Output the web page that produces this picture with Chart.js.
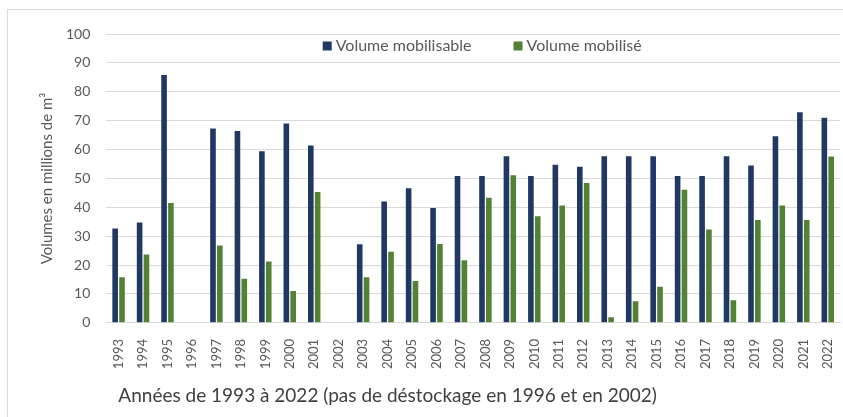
<!DOCTYPE html>
<html>
<head>
<meta charset="utf-8">
<script src="https://cdn.jsdelivr.net/npm/chart.js@4.4.0/dist/chart.umd.min.js"></script>
<style>
    html, body { margin: 0; padding: 0; background: #fff; }
    #wrap { position: relative; width: 843px; height: 417px; }
    #frame { position: absolute; left: 7px; top: 9px; right: 0; bottom: 0; border-left: 1px solid #d9d9d9; border-top: 1px solid #d9d9d9; }
    canvas { position: absolute; left: 0; top: 0; }
</style>
</head>
<body>
<div id="wrap">
    <div id="frame"></div>
    <canvas id="volumesChart" width="843" height="417"></canvas>
</div>
<script>
// Volumes annuels (millions de m3)
const years = ['1993', '1994', '1995', '1996', '1997', '1998', '1999', '2000', '2001', '2002',
    '2003', '2004', '2005', '2006', '2007', '2008', '2009', '2010', '2011', '2012',
    '2013', '2014', '2015', '2016', '2017', '2018', '2019', '2020', '2021', '2022'];

const mobilisable = [32.7, 34.7, 85.8, 0, 67.3, 66.4, 59.4, 69.0, 61.4, 0,
    27.2, 42.0, 46.6, 39.8, 50.8, 50.8, 57.7, 50.8, 54.7, 54.0,
    57.7, 57.7, 57.7, 50.8, 50.8, 57.7, 54.5, 64.6, 72.9, 71.0];

const mobilise = [15.8, 23.7, 41.5, 0, 26.8, 15.3, 21.2, 11.0, 45.3, 0,
    15.8, 24.6, 14.5, 27.3, 21.7, 43.3, 51.1, 36.9, 40.6, 48.4,
    1.9, 7.5, 12.5, 46.1, 32.3, 7.8, 35.6, 40.6, 35.6, 57.6];

const yTicks = [0, 10, 20, 30, 40, 50, 60, 70, 80, 90, 100];

const fontFamily = 'Lato, "Noto Sans", sans-serif';
const textColor = '#595959';

// legend drawn inside the plot, between the 90 and 100 grid lines
const innerLegend = {
    id: 'innerLegend',
    afterDraw(chart) {
        const ctx = chart.ctx;
        const area = chart.chartArea;
        const box = 9, gapText = 4, gapItems = 42;
        ctx.save();
        ctx.font = '16px ' + fontFamily;
        ctx.textBaseline = 'middle';
        const items = chart.data.datasets.map(ds => ({
            text: ds.label,
            color: ds.backgroundColor,
            w: box + gapText + ctx.measureText(ds.label).width
        }));
        const total = items.reduce((s, it) => s + it.w, 0) + gapItems * (items.length - 1);
        let x = (area.left + area.right) / 2 + 9 - total / 2;
        const y = area.top + 12;
        items.forEach(it => {
            ctx.fillStyle = it.color;
            ctx.fillRect(x, y - box / 2, box, box);
            ctx.fillStyle = textColor;
            ctx.fillText(it.text, x + box + gapText, y);
            x += it.w + gapItems;
        });
        ctx.restore();
    }
};

// x axis caption, left aligned under the year labels
const xCaption = {
    id: 'xCaption',
    afterDraw(chart) {
        const ctx = chart.ctx;
        ctx.save();
        ctx.font = '19px ' + fontFamily;
        ctx.fillStyle = '#404040';
        ctx.textBaseline = 'middle';
        ctx.textAlign = 'left';
        ctx.fillText('Années de 1993 à 2022 (pas de déstockage en 1996 et en 2002)', chart.chartArea.left + 12, 396);
        ctx.restore();
    }
};

const canvas = document.getElementById('volumesChart');
new Chart(canvas, {
    type: 'bar',
    data: {
        labels: years,
        datasets: [
            { label: 'Volume mobilisable', data: mobilisable, backgroundColor: '#1f3864', borderWidth: 0 },
            { label: 'Volume mobilisé', data: mobilise, backgroundColor: '#548235', borderWidth: 0 }
        ]
    },
    options: {
        responsive: false,
        animation: false,
        devicePixelRatio: 1,
        layout: { padding: { left: 38, right: 3, top: 34, bottom: 32 } },
        datasets: { bar: { categoryPercentage: 0.56, barPercentage: 0.82 } },
        plugins: {
            tooltip: { enabled: false },
            legend: { display: false }
        },
        scales: {
            x: {
                afterFit(scale) {
                    scale.paddingLeft = 0;
                    scale.paddingRight = 0;
                },
                grid: { display: false, drawTicks: false },
                border: { display: true, color: '#d9d9d9' },
                ticks: {
                    autoSkip: false,
                    minRotation: 90,
                    maxRotation: 90,
                    padding: 16,
                    color: textColor,
                    font: { family: fontFamily, size: 13 }
                }
            },
            y: {
                min: 0,
                max: 100,
                afterBuildTicks(axis) {
                    axis.ticks = yTicks.map(v => ({ value: v }));
                },
                grid: { color: '#d9d9d9', drawTicks: false },
                border: { display: false },
                ticks: {
                    padding: 16,
                    color: textColor,
                    font: { family: fontFamily, size: 14 }
                },
                title: {
                    display: true,
                    text: 'Volumes en millions de m³',
                    color: textColor,
                    font: { family: fontFamily, size: 15 },
                    padding: { top: 0, bottom: -6 }
                }
            }
        }
    },
    plugins: [innerLegend, xCaption]
});
</script>
</body>
</html>
